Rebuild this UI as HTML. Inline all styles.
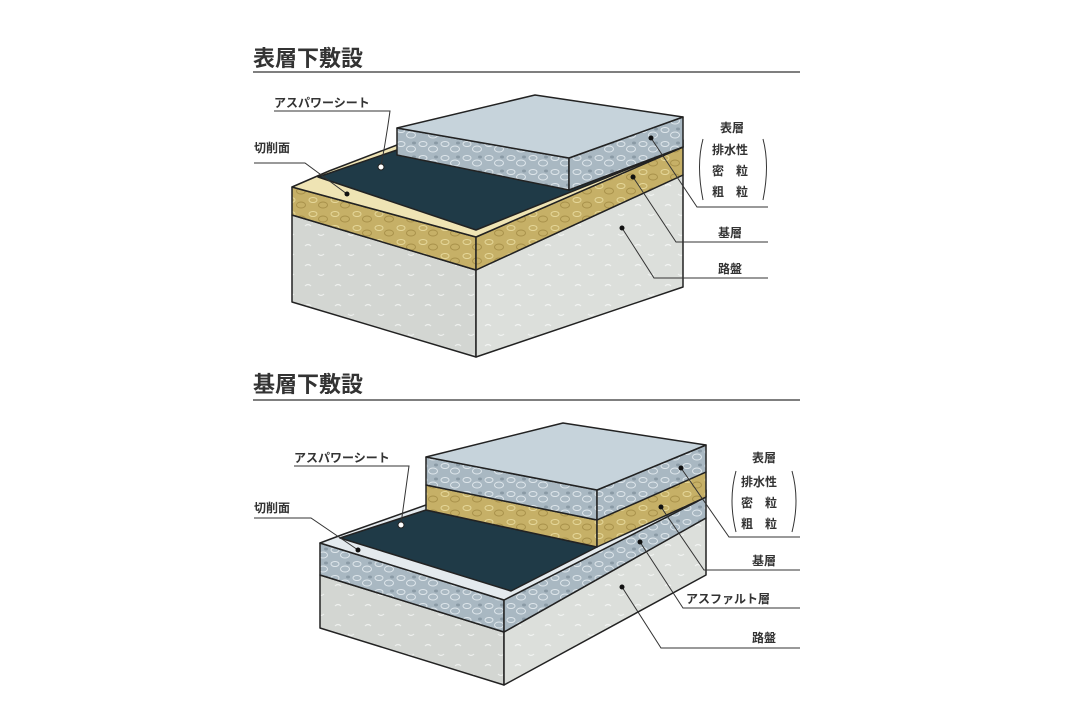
<!DOCTYPE html>
<html><head><meta charset="utf-8"><style>
html,body{margin:0;padding:0;background:#fff;}
svg{display:block;}
text{font-family:"Liberation Sans","Noto Sans CJK JP",sans-serif;fill:#333;font-weight:bold;}
</style></head><body>
<svg width="1080" height="720" viewBox="0 0 1080 720" xmlns="http://www.w3.org/2000/svg">
<defs>
<pattern id="agB" width="22" height="14" patternUnits="userSpaceOnUse">
<rect width="22" height="14" fill="#a9b8c2"/>
<ellipse cx="5" cy="4" rx="4" ry="2.5" fill="none" stroke="#dfe7ec" stroke-width="1"/>
<ellipse cx="15" cy="9" rx="4.5" ry="3" fill="none" stroke="#dfe7ec" stroke-width="1"/>
<ellipse cx="18" cy="3" rx="2" ry="1.5" fill="#8a9aa5"/>
</pattern>
<pattern id="agY" width="22" height="14" patternUnits="userSpaceOnUse">
<rect width="22" height="14" fill="#c6b067"/>
<ellipse cx="5" cy="4" rx="4" ry="2.5" fill="none" stroke="#e6d89a" stroke-width="1"/>
<ellipse cx="15" cy="9" rx="4.5" ry="3" fill="none" stroke="#a8914a" stroke-width="1"/>
</pattern>
<pattern id="agG" width="30" height="20" patternUnits="userSpaceOnUse">
<rect width="30" height="20" fill="#d3d6d2"/>
<path d="M5 6 q3 -3 6 0 M18 14 q3 3 6 0" fill="none" stroke="#eef0ee" stroke-width="1.2"/>
</pattern>
<pattern id="agGr" width="30" height="20" patternUnits="userSpaceOnUse">
<rect width="30" height="20" fill="#dcdfdb"/>
<path d="M5 6 q3 -3 6 0 M18 14 q3 3 6 0" fill="none" stroke="#f2f4f2" stroke-width="1.2"/>
</pattern>
</defs>

<!-- ===== TOP ===== -->
<text x="253" y="66" font-size="22">表層下敷設</text>
<line x1="253" y1="72" x2="800" y2="72" stroke="#555" stroke-width="1.5"/>

<g stroke="#222" stroke-width="1.5" stroke-linejoin="round">
<polygon points="292,215 476,270 476,357 292,302" fill="url(#agG)"/>
<polygon points="476,270 683,175 683,287 476,357" fill="url(#agGr)"/>
<polygon points="292,187 476,237 476,270 292,215" fill="url(#agY)"/>
<polygon points="476,237 683,147 683,175 476,270" fill="url(#agY)"/>
<polygon points="292,187 329,171 397,145 683,140 683,147 476,237" fill="#efe4b4"/>
<polygon points="318,177 397,150 569,190 683,147 476,230" fill="#1f3a47"/>
<polygon points="397,128 569,158 569,190 397,155" fill="url(#agB)"/>
<polygon points="569,158 683,117 683,147 569,190" fill="url(#agB)"/>
<polygon points="397,128 535,95 683,117 569,158" fill="#c6d3db"/>
</g>

<g font-size="12">
<text x="274" y="107">アスパワーシート</text>
<text x="254" y="152">切削面</text>
<text x="720" y="132">表層</text>
<text x="712" y="154">排水性</text>
<text x="712" y="175">密　粒</text>
<text x="712" y="196">粗　粒</text>
<text x="718" y="237">基層</text>
<text x="718" y="273">路盤</text>
</g>
<g fill="none" stroke="#333" stroke-width="1">
<path d="M274 111 H390 Q386 140 381 166"/>
<circle cx="381" cy="167" r="3" fill="#fff" stroke="#222"/>
<path d="M254 163 H305 L347 194"/>
<path d="M703 139 Q696 165 703 200"/>
<path d="M763 139 Q770 165 763 200"/>
<path d="M651 138 L697 207 H768"/>
<path d="M633 177 L676 242 H768"/>
<path d="M622 228 L654 278 H768"/>
</g>
<g fill="#111"><circle cx="347" cy="194" r="2.5"/><circle cx="651" cy="138" r="2.5"/><circle cx="633" cy="177" r="2.5"/><circle cx="622" cy="228" r="2.5"/></g>

<!-- ===== BOTTOM ===== -->
<text x="253" y="392" font-size="22">基層下敷設</text>
<line x1="253" y1="400" x2="800" y2="400" stroke="#555" stroke-width="1.5"/>

<g stroke="#222" stroke-width="1.5" stroke-linejoin="round">
<polygon points="320,575 504,632 504,685 320,628" fill="url(#agG)"/>
<polygon points="504,632 706,518 706,575 504,685" fill="url(#agGr)"/>
<polygon points="320,543 504,600 504,632 320,575" fill="url(#agB)"/>
<polygon points="504,600 706,497 706,518 504,632" fill="url(#agB)"/>
<polygon points="320,543 344,534 426,505 706,490 706,497 504,600" fill="#e4eaee"/>
<polygon points="340,538 426,510 597,547 511,591" fill="#1f3a47"/>
<polygon points="426,485 597,520 597,547 426,510" fill="url(#agY)"/>
<polygon points="597,520 706,472 706,497 597,547" fill="url(#agY)"/>
<polygon points="426,457 597,490 597,520 426,485" fill="url(#agB)"/>
<polygon points="597,490 706,445 706,472 597,520" fill="url(#agB)"/>
<polygon points="426,457 563,423 706,445 597,490" fill="#c6d3db"/>
</g>

<g font-size="12">
<text x="294" y="462">アスパワーシート</text>
<text x="254" y="512">切削面</text>
<text x="752" y="462">表層</text>
<text x="741" y="486">排水性</text>
<text x="741" y="507">密　粒</text>
<text x="741" y="528">粗　粒</text>
<text x="752" y="565">基層</text>
<text x="686" y="603">アスファルト層</text>
<text x="752" y="642">路盤</text>
</g>
<g fill="none" stroke="#333" stroke-width="1">
<path d="M294 466 H409 Q405 495 401 524"/>
<circle cx="401" cy="525" r="3" fill="#fff" stroke="#222"/>
<path d="M254 518 H311 L358 550"/>
<path d="M736 471 Q728 500 736 532"/>
<path d="M792 471 Q800 500 792 532"/>
<path d="M681 468 L729 537 H800"/>
<path d="M661 507 L704 570 H800"/>
<path d="M640 542 L683 608 H800"/>
<path d="M622 587 L661 648 H800"/>
</g>
<g fill="#111"><circle cx="358" cy="550" r="2.5"/><circle cx="681" cy="468" r="2.5"/><circle cx="661" cy="507" r="2.5"/><circle cx="640" cy="542" r="2.5"/><circle cx="622" cy="587" r="2.5"/></g>
</svg>
</body></html>
